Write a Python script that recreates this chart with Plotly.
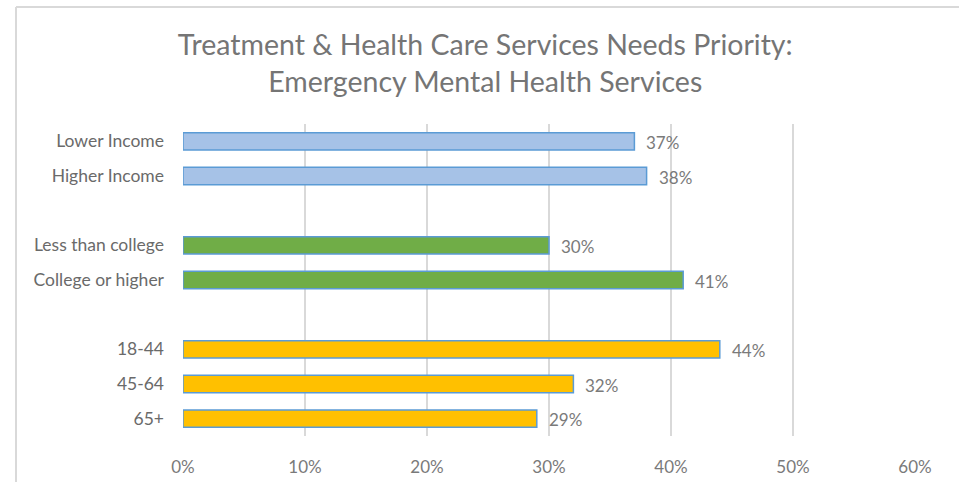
import plotly.graph_objects as go

# Survey groups, top to bottom; a blank row separates each group
income_labels = ["Lower Income", "Higher Income"]
income_values = [37, 38]
education_labels = ["Less than college", "College or higher"]
education_values = [30, 41]
age_labels = ["18-44", "45-64", "65+"]
age_values = [44, 32, 29]

x_ticks = [0, 10, 20, 30, 40, 50, 60]

groups = [
    (income_labels, income_values, "#a6c2e7"),
    (education_labels, education_values, "#70ad47"),
    (age_labels, age_values, "#ffc000"),
]

W, H = 959, 482
L, R, T, B = 183, 44, 124, 46
plot_w = W - L - R
plot_h = H - T - B

fig = go.Figure()
tickvals, ticktext = [], []
row = 0
annotations = []
for labels, values, color in groups:
    ys = list(range(row, row + len(labels)))
    fig.add_trace(go.Bar(
        x=values, y=ys, orientation="h", width=0.5,
        marker=dict(color=color, line=dict(color="#5b9bd5", width=1.5)),
        hoverinfo="x+y", showlegend=False,
    ))
    for y, v in zip(ys, values):
        annotations.append(dict(
            x=v, y=y, xref="x", yref="y", text=f"{v}%", showarrow=False,
            xanchor="left", xshift=10, yshift=-1,
            font=dict(family="Lato, sans-serif", size=17, color="#7a7a7a"),
        ))
    tickvals += ys
    ticktext += labels
    row += len(labels) + 1

n_rows = row - 1

# chart-area frame (left and top edges)
frame_x = (16 - L) / plot_w
frame_y = (H - B - 7) / plot_h
shapes = [
    dict(type="line", xref="paper", yref="paper", x0=frame_x, x1=frame_x,
         y0=-0.5, y1=frame_y, line=dict(color="#d9d9d9", width=2), layer="below"),
    dict(type="line", xref="paper", yref="paper", x0=frame_x, x1=1.5,
         y0=frame_y, y1=frame_y, line=dict(color="#d9d9d9", width=2), layer="below"),
]

fig.update_layout(
    width=W, height=H,
    margin=dict(l=L, r=R, t=T, b=B, autoexpand=False),
    paper_bgcolor="white", plot_bgcolor="white",
    title=dict(
        text="Treatment & Health Care Services Needs Priority:<br>Emergency Mental Health Services",
        x=0.506, xanchor="center", y=0.885, yanchor="middle", xref="container", yref="container",
        font=dict(family="Lato, sans-serif", size=28.5, color="#757575"),
    ),
    xaxis=dict(
        range=[0, 60], tickvals=x_ticks, ticktext=[f"{t}%" for t in x_ticks],
        showgrid=True, gridcolor="#d9d9d9", gridwidth=2, zeroline=False,
        showline=False, ticks="", ticklabelstandoff=19, automargin=False,
        tickfont=dict(family="Lato, sans-serif", size=17, color="#7a7a7a"),
        fixedrange=True,
    ),
    yaxis=dict(
        range=[n_rows - 0.5, -0.5], tickvals=tickvals, ticktext=ticktext,
        showgrid=False, zeroline=False, showline=False, ticks="",
        ticklabelstandoff=18, automargin=False,
        tickfont=dict(family="Lato, sans-serif", size=17.5, color="#6a6a6a"),
        fixedrange=True,
    ),
    shapes=shapes,
    annotations=annotations,
    bargap=0.5,
)

fig.write_html("out.html")
